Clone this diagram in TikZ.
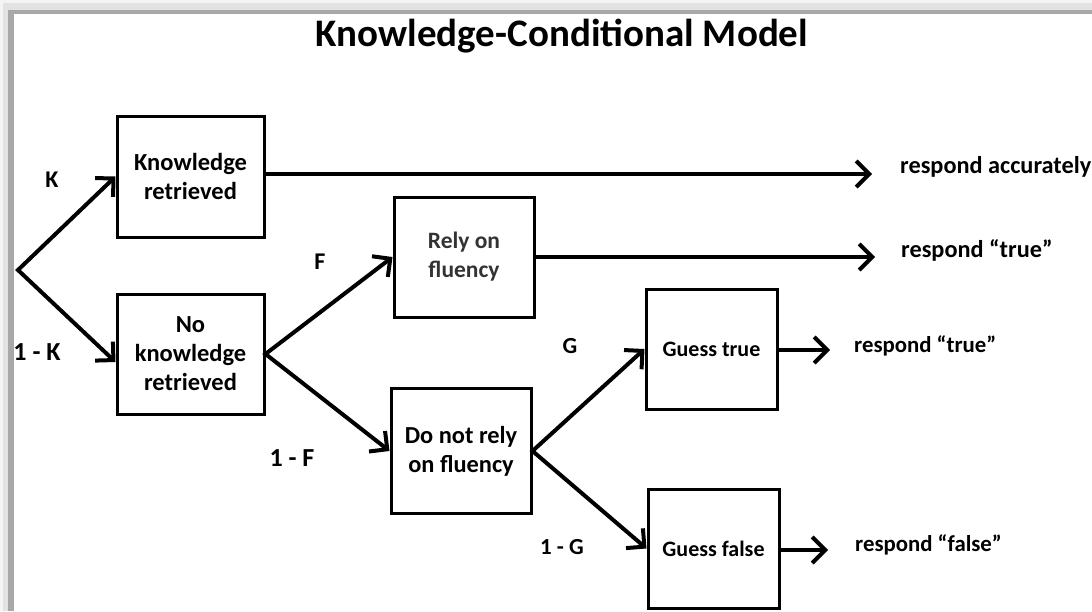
\documentclass[tikz,border=0pt]{standalone}
\usepackage{fontspec}
\setmainfont{Carlito}
\usetikzlibrary{arrows.meta}
\definecolor{frameshade}{HTML}{A8A8A8}
\definecolor{framelight}{HTML}{E2E2E2}
\definecolor{frameedge}{HTML}{F4F4F4}
\newcommand{\fsz}[1]{\fontsize{#1}{29}\selectfont\bfseries}
\begin{document}
\begin{tikzpicture}[x=1pt,y=-1pt,
		box/.style={draw,line width=3pt,align=center,inner sep=0pt},
		arr/.style={line width=4pt,-{Straight Barb[length=13pt,width=26pt]}},
		fork/.style={line width=4pt,{Straight Barb[length=13pt,width=26pt]}-{Straight Barb[length=13pt,width=26pt]}},
		lbl/.style={anchor=base,inner sep=0pt},
		outc/.style={anchor=base west,inner sep=0pt}]
				\useasboundingbox (0,0) rectangle (1092,611);
				\clip (0,0) rectangle (1092,611);
				% frame shadow
				\fill[frameedge] (0,0) rectangle (1092,3);
				\fill[frameedge] (0,0) rectangle (3,611);
				\fill[framelight] (3,3) rectangle (1092,10);
				\fill[framelight] (3,3) rectangle (8,611);
				\fill[frameshade] (8,10) rectangle (1092,14);
				\fill[frameshade] (8,10) rectangle (14,611);
				\node[anchor=base,font=\fontsize{39}{44}\selectfont\bfseries] (title) at (562,46) {Knowledge-Conditional Model};
				\coordinate (root) at (18,270);
				\node[box,font=\fsz{24.5},minimum width=147pt,minimum height=121pt] (kr) at (190.5,176.5) {Knowledge\\retrieved};
				\node[box,font=\fsz{24.5},minimum width=147pt,minimum height=120pt] (nk) at (190.5,354) {No\\knowledge\\retrieved};
				\node[box,font=\fsz{23.5},text=black!80,minimum width=140pt,minimum height=120pt] (rf) at (464,257) {Rely on\\fluency};
				\node[box,font=\fsz{24.4},minimum width=140pt,minimum height=125pt] (dn) at (461,451) {Do not rely\\on fluency};
				\node[box,font=\fsz{22},minimum width=131pt,minimum height=120pt] (gt) at (711.5,349) {Guess true};
				\node[box,font=\fsz{22},minimum width=131pt,minimum height=119pt] (gf) at (713.5,548.5) {Guess false};
				\coordinate (ra) at (872,174);
				\coordinate (rt1) at (875,257);
				\coordinate (rt2) at (830,350);
				\coordinate (rf2) at (828,550);
				\draw[fork] (kr.west) -- (root) -- ([yshift=-8pt]nk.west);
				\draw[fork] (rf.west) -- (nk.east) -- (dn.west);
				\draw[fork] (gt.west) -- (dn.east) -- (gf.west);
				\draw[arr] (kr.east |- ra) -- (ra);
				\draw[arr] (rf.east |- rt1) -- (rt1);
				\draw[arr] (gt.east |- rt2) -- (rt2);
				\draw[arr] (gf.east |- rf2) -- (rf2);
				\node[lbl,font=\fsz{24}] (k) at (52,187) {K};
				\node[lbl,font=\fsz{26}] (onek) at (37,360) {1 - K};
				\node[lbl,font=\fsz{24}] (f) at (320,269) {F};
				\node[lbl,font=\fsz{26}] (onef) at (292,466) {1 - F};
				\node[lbl,font=\fsz{23}] (g) at (570,353) {G};
				\node[lbl,font=\fsz{23}] (oneg) at (562,554) {1 - G};
				\node[outc,font=\fsz{24.3}] (oacc) at (900,173) {respond accurately};
				\node[outc,font=\fsz{24.3}] (otrue) at (901,257) {respond “true”};
				\node[outc,font=\fsz{22.8}] (oguesst) at (854,352) {respond “true”};
				\node[outc,font=\fsz{22.8}] (oguessf) at (855,551) {respond “false”};
			\end{tikzpicture}
\end{document}
